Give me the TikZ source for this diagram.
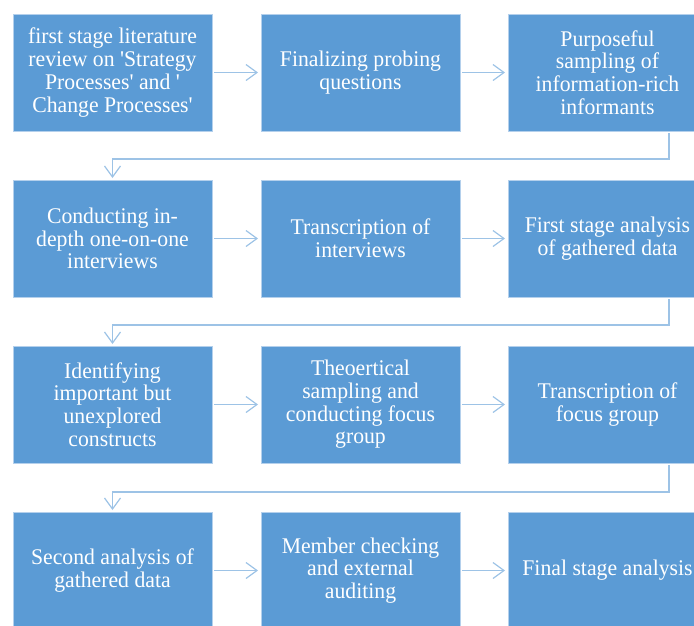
\documentclass[tikz,border=0pt]{standalone}
\usepackage{fontspec}
\setmainfont{Liberation Serif}[FakeStretch=0.97]
\font\sq="Liberation Serif" at 22.4pt
\newcommand{\sqt}{{\sq '}}
\usetikzlibrary{arrows.meta}
\definecolor{boxblue}{HTML}{5B9BD5}
\definecolor{boxedge}{HTML}{B4D0EC}
\definecolor{connblue}{HTML}{9DC3E6}
\begin{document}
\begin{tikzpicture}[x=1pt,y=-1pt,
  stagebox/.style={fill=boxblue,draw=boxedge,line width=0.6pt,minimum width=199pt,minimum height=117pt,
    anchor=north west,inner sep=0pt,outer sep=0pt,align=center,text=white,
    font=\fontsize{22.4}{22.7}\selectfont},
  conn/.style={draw=connblue,line width=1.3pt,-{Straight Barb[length=11pt,width=16pt,line width=1.2pt]}}]
\useasboundingbox (0,0) rectangle (694,625);
\clip (0,0) rectangle (694,625);
% row 1
\node[stagebox] (a1) at (13,14) {first stage literature\\review on \sqt Strategy\\Processes\sqt{} and \sqt\\Change Processes\sqt};
\node[stagebox] (a2) at (261,14) {Finalizing probing\\questions};
\node[stagebox] (a3) at (508,14) {Purposeful\\sampling of\\information-rich\\informants};
% row 2
\node[stagebox] (b1) at (13,180) {Conducting in-\\depth one-on-one\\interviews};
\node[stagebox] (b2) at (261,180) {Transcription of\\interviews};
\node[stagebox] (b3) at (508,180) {First stage analysis\\of gathered data};
% row 3
\node[stagebox] (c1) at (13,346) {Identifying\\important but\\unexplored\\constructs};
\node[stagebox] (c2) at (261,346) {Theoertical\\sampling and\\conducting focus\\group};
\node[stagebox] (c3) at (508,346) {Transcription of\\focus group};
% row 4
\node[stagebox] (d1) at (13,512) {Second analysis of\\gathered data};
\node[stagebox] (d2) at (261,512) {Member checking\\and external\\auditing};
\node[stagebox] (d3) at (508,512) {Final stage analysis};
% horizontal connectors
\foreach \p/\q in {a1/a2,a2/a3,b1/b2,b2/b3,c1/c2,c2/c3,d1/d2,d2/d3}{
  \draw[conn] ([xshift=2pt]\p.east) -- ([xshift=-3pt]\q.west);
}
% wrap connectors
\draw[conn] ([xshift=61.5pt,yshift=-2pt]a3.south) -- ++(0,26) -| ([yshift=2pt]b1.north);
\draw[conn] ([xshift=61.5pt,yshift=-2pt]b3.south) -- ++(0,26) -| ([yshift=2pt]c1.north);
\draw[conn] ([xshift=61.5pt,yshift=-2pt]c3.south) -- ++(0,27) -| ([yshift=2pt]d1.north);
\end{tikzpicture}
\end{document}
